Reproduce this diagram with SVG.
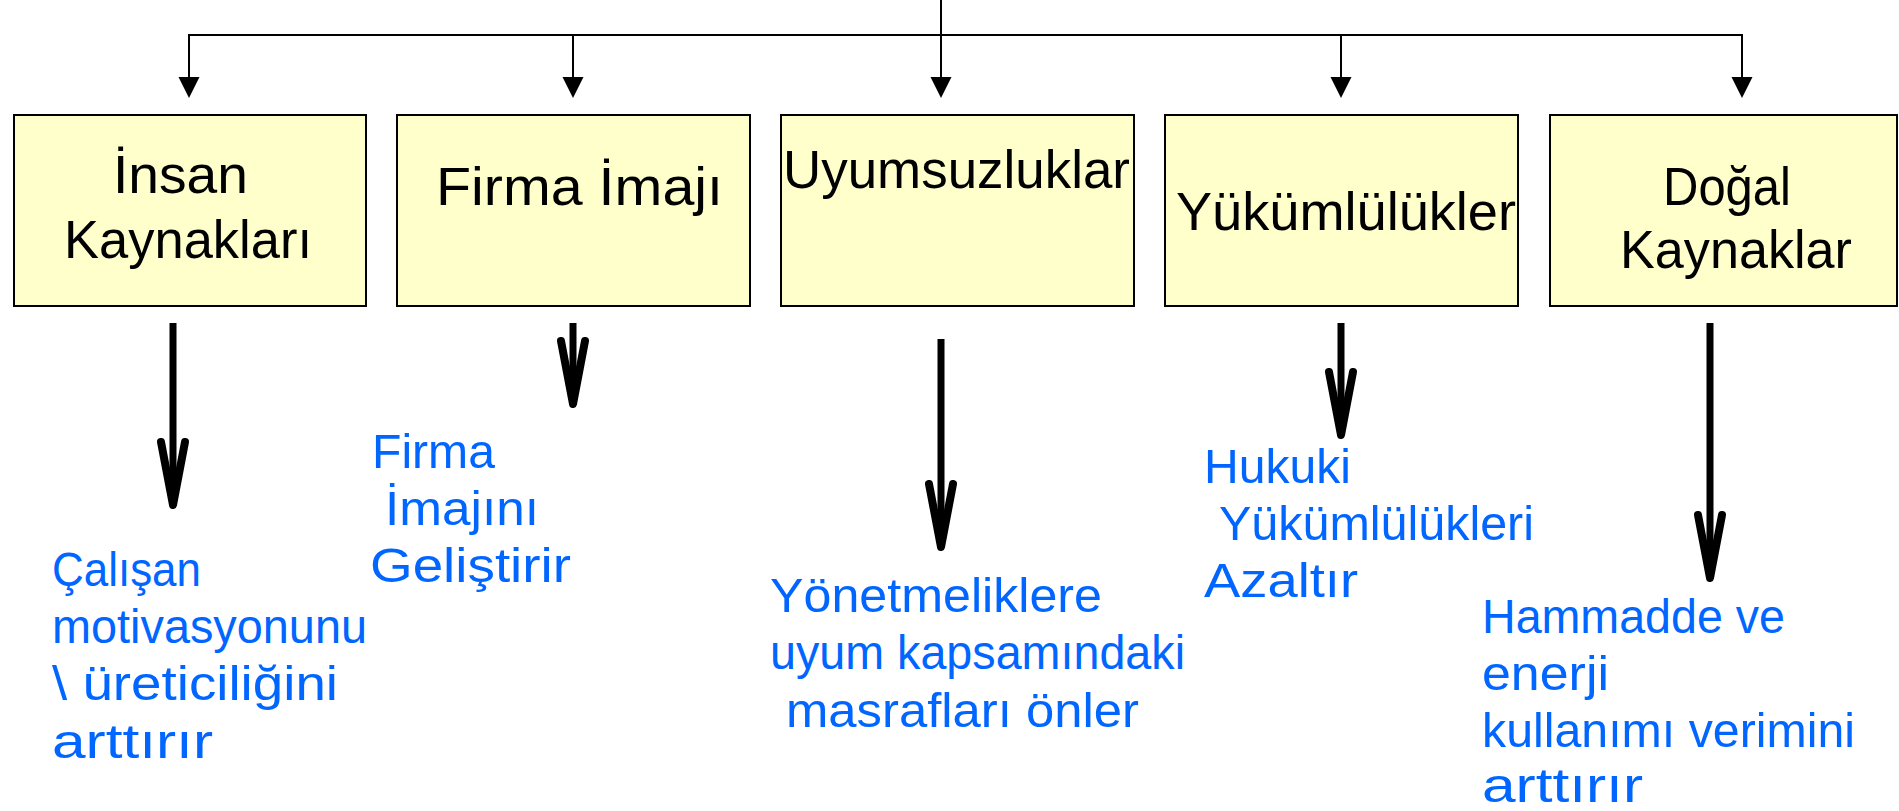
<svg xmlns="http://www.w3.org/2000/svg" width="1899" height="811" viewBox="0 0 1899 811">
<style>
.box{fill:#FFFFCC;stroke:#000;stroke-width:2}
.bt{font-family:"Liberation Sans",Arial,sans-serif;font-size:54px;fill:#000}
.ct{font-family:"Liberation Sans",Arial,sans-serif;font-size:49px;fill:#0066FF}
.thin{stroke:#000;stroke-width:2;fill:none}
.shaft{stroke:#000;stroke-width:7;fill:none}
.wing{stroke:#000;stroke-width:8;fill:none;stroke-linecap:round;stroke-linejoin:round}
</style>
<defs>
<polygon id="ah" points="-10.5,77 10.5,77 0,98" fill="#000"/>
</defs>
<rect width="1899" height="811" fill="#fff"/>
<g id="connectors">
<line class="thin" x1="941" y1="0" x2="941" y2="80"/>
<polyline class="thin" points="189,80 189,35 1742,35 1742,80"/>
<line class="thin" x1="573" y1="35" x2="573" y2="80"/>
<line class="thin" x1="1341" y1="35" x2="1341" y2="80"/>
<use href="#ah" x="189"/>
<use href="#ah" x="573"/>
<use href="#ah" x="941"/>
<use href="#ah" x="1341"/>
<use href="#ah" x="1742"/>
<line class="shaft" x1="173" y1="323" x2="173" y2="502"/>
<path class="wing" d="M161,442 L173,505 L185,442"/>
<line class="shaft" x1="573" y1="323" x2="573" y2="401"/>
<path class="wing" d="M561,341 L573,404 L585,341"/>
<line class="shaft" x1="941" y1="339" x2="941" y2="544"/>
<path class="wing" d="M929,484 L941,547 L953,484"/>
<line class="shaft" x1="1341" y1="323" x2="1341" y2="432"/>
<path class="wing" d="M1329,372 L1341,435 L1353,372"/>
<line class="shaft" x1="1710" y1="323" x2="1710" y2="575"/>
<path class="wing" d="M1698,515 L1710,578 L1722,515"/>
</g>
<g id="n1">
<rect class="box" x="14" y="115" width="352" height="191"/>
<text class="bt" x="113" y="193" textLength="135" lengthAdjust="spacingAndGlyphs">İnsan</text>
<text class="bt" x="64" y="258" textLength="248" lengthAdjust="spacingAndGlyphs">Kaynakları</text>
</g>
<g id="n2">
<rect class="box" x="397" y="115" width="353" height="191"/>
<text class="bt" x="436" y="205" textLength="287" lengthAdjust="spacingAndGlyphs">Firma İmajı</text>
</g>
<g id="n3">
<rect class="box" x="781" y="115" width="353" height="191"/>
<text class="bt" x="783" y="188" textLength="347" lengthAdjust="spacingAndGlyphs">Uyumsuzluklar</text>
</g>
<g id="n4">
<rect class="box" x="1165" y="115" width="353" height="191"/>
<text class="bt" x="1176" y="230" textLength="340" lengthAdjust="spacingAndGlyphs">Yükümlülükler</text>
</g>
<g id="n5">
<rect class="box" x="1550" y="115" width="347" height="191"/>
<text class="bt" x="1663" y="205" textLength="128" lengthAdjust="spacingAndGlyphs">Doğal</text>
<text class="bt" x="1620" y="268" textLength="232" lengthAdjust="spacingAndGlyphs">Kaynaklar</text>
</g>
<g id="c1">
<text class="ct" x="52" y="586" textLength="149" lengthAdjust="spacingAndGlyphs">Çalışan</text>
<text class="ct" x="52" y="643" textLength="315" lengthAdjust="spacingAndGlyphs">motivasyonunu</text>
<text class="ct" x="52" y="700" textLength="286" lengthAdjust="spacingAndGlyphs">\ üreticiliğini</text>
<text class="ct" x="52" y="758" textLength="161" lengthAdjust="spacingAndGlyphs">arttırır</text>
</g>
<g id="c2">
<text class="ct" x="372" y="468" textLength="123" lengthAdjust="spacingAndGlyphs">Firma</text>
<text class="ct" x="385" y="525" textLength="154" lengthAdjust="spacingAndGlyphs">İmajını</text>
<text class="ct" x="370" y="582" textLength="201" lengthAdjust="spacingAndGlyphs">Geliştirir</text>
</g>
<g id="c3">
<text class="ct" x="770" y="612" textLength="332" lengthAdjust="spacingAndGlyphs">Yönetmeliklere</text>
<text class="ct" x="770" y="669" textLength="415" lengthAdjust="spacingAndGlyphs">uyum kapsamındaki</text>
<text class="ct" x="786" y="727" textLength="353" lengthAdjust="spacingAndGlyphs">masrafları önler</text>
</g>
<g id="c4">
<text class="ct" x="1204" y="483" textLength="147" lengthAdjust="spacingAndGlyphs">Hukuki</text>
<text class="ct" x="1219" y="540" textLength="315" lengthAdjust="spacingAndGlyphs">Yükümlülükleri</text>
<text class="ct" x="1204" y="597" textLength="154" lengthAdjust="spacingAndGlyphs">Azaltır</text>
</g>
<g id="c5">
<text class="ct" x="1482" y="633" textLength="303" lengthAdjust="spacingAndGlyphs">Hammadde ve</text>
<text class="ct" x="1482" y="690" textLength="127" lengthAdjust="spacingAndGlyphs">enerji</text>
<text class="ct" x="1482" y="747" textLength="373" lengthAdjust="spacingAndGlyphs">kullanımı verimini</text>
<text class="ct" x="1482" y="802" textLength="161" lengthAdjust="spacingAndGlyphs">arttırır</text>
</g>
</svg>
